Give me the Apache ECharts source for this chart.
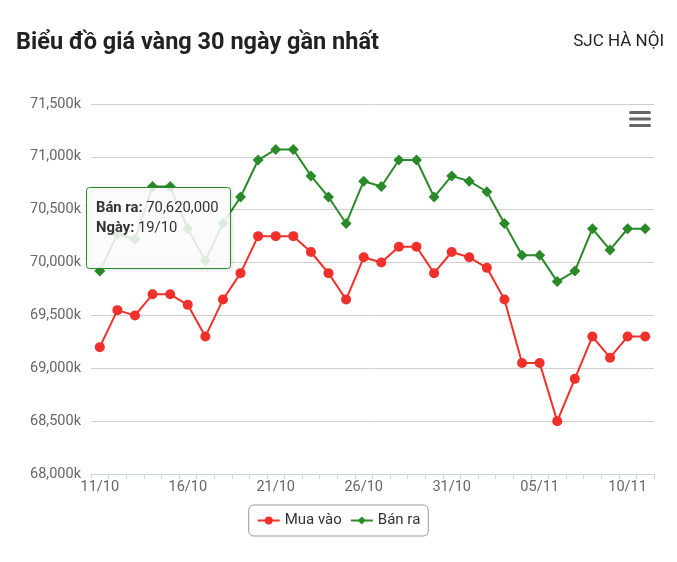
<!DOCTYPE html>
<html>
<head>
<meta charset="utf-8">
<script src="https://cdn.jsdelivr.net/npm/echarts@6/dist/echarts.min.js"></script>
<style>
html,body{margin:0;padding:0;background:#fff;}
#c{width:677px;height:562px;}
</style>
</head>
<body>
<div id="c"></div>
<script>
const categories = ['11/10','12/10','13/10','14/10','15/10','16/10','17/10','18/10','19/10','20/10','21/10','22/10','23/10','24/10','25/10','26/10','27/10','28/10','29/10','30/10','31/10','01/11','02/11','03/11','04/11','05/11','06/11','07/11','08/11','09/11','10/11','11/11'];
const muaVao = [69200,69550,69500,69700,69700,69600,69300,69650,69900,70250,70250,70250,70100,69900,69650,70050,70000,70150,70150,69900,70100,70050,69950,69650,69050,69050,68500,68900,69300,69100,69300,69300];
const banRa = [69920,70270,70220,70720,70720,70320,70020,70370,70620,70970,71070,71070,70820,70620,70370,70770,70720,70970,70970,70620,70820,70770,70670,70370,70070,70070,69820,69920,70320,70120,70320,70320];
const yTicks = {min:68000, max:71500, interval:500};
const tooltipIndex = 8;

const RED = '#f0302a';
const GREEN = '#2a8a2a';
const FONT = 'Roboto, "Noto Sans", sans-serif';

const chart = echarts.init(document.getElementById('c'), null, {renderer:'canvas'});
function fmt(n){return n.toLocaleString('en-US');}

chart.setOption({
  animation:false,
  textStyle:{fontFamily:FONT},
  title:[
    {text:'Biểu đồ giá vàng 30 ngày gần nhất', left:11, top:26,
     textStyle:{fontSize:23.5, fontWeight:'bold', color:'#222', fontFamily:FONT}},
    {text:'SJC HÀ NỘI', right:8, top:28,
     textStyle:{fontSize:17, fontWeight:'normal', color:'#222', fontFamily:FONT}}
  ],
  grid:{left:91, right:23, top:104, bottom:88, containLabel:false},
  legend:{
    data:['Mua vào','Bán ra'], left:'center', top:505,
    borderColor:'#999', borderWidth:1, borderRadius:5, padding:[8,8],
    itemWidth:22, itemHeight:10, itemGap:8,
    textStyle:{fontSize:15, color:'#333', fontFamily:FONT}
  },
  xAxis:{
    type:'category', data:categories, boundaryGap:true,
    axisLine:{lineStyle:{color:'#ccd6eb', width:1}},
    axisTick:{show:true, interval:0, length:5, lineStyle:{color:'#ccd6eb'}},
    axisLabel:{interval:4, color:'#666', fontSize:14.5, margin:6, fontFamily:FONT},
    splitLine:{show:false}
  },
  yAxis:{
    type:'value', min:yTicks.min, max:yTicks.max, interval:yTicks.interval,
    axisLine:{show:false}, axisTick:{show:false},
    axisLabel:{color:'#666', fontSize:14.5, margin:10, fontFamily:FONT,
      formatter:v=>fmt(v)+'k'},
    splitLine:{lineStyle:{color:'#cfcfcf', width:1}}
  },
  series:[
    {name:'Mua vào', type:'line', data:muaVao, color:RED, z:2,
     symbol:'circle', symbolSize:10, lineStyle:{width:2, color:RED},
     itemStyle:{color:RED}},
    {name:'Bán ra', type:'line', data:banRa, color:GREEN, z:2,
     symbol:'diamond', symbolSize:11, lineStyle:{width:2, color:GREEN},
     itemStyle:{color:GREEN}}
  ]
});

// tooltip box placed next to the point it describes
const pt = chart.convertToPixel({gridIndex:0}, [tooltipIndex, banRa[tooltipIndex]]);
const bw = 144, bh = 81;
const bx = Math.round(pt[0] - 11 - bw), by = Math.round(pt[1] - 10);
const gridRight = 677 - 23;
chart.setOption({
  graphic:[
    {type:'rect', zlevel:1, z:100, shape:{x:bx+0.5, y:by+0.5, width:bw, height:bh, r:3},
     style:{fill:'rgba(255,255,255,0.85)', stroke:GREEN, lineWidth:1,
            shadowBlur:4, shadowColor:'rgba(0,0,0,0.15)', shadowOffsetX:1, shadowOffsetY:1}},
    {type:'text', zlevel:1, z:101, x:bx+10, y:by+11,
     style:{text:'{b|Bán ra:} ' + fmt(banRa[tooltipIndex]*1000) + '\n{b|Ngày:} ' + categories[tooltipIndex],
       fontSize:14.8, fill:'#333', fontFamily:FONT, lineHeight:20,
       rich:{b:{fontWeight:'bold', fontSize:14.8, fill:'#333', fontFamily:FONT, lineHeight:20}}}},
    {type:'rect', zlevel:1, z:100, shape:{x:gridRight-25, y:111, width:22, height:3, r:1.5}, style:{fill:'#666'}},
    {type:'rect', zlevel:1, z:100, shape:{x:gridRight-25, y:117.5, width:22, height:3, r:1.5}, style:{fill:'#666'}},
    {type:'rect', zlevel:1, z:100, shape:{x:gridRight-25, y:124, width:22, height:3, r:1.5}, style:{fill:'#666'}}
  ]
});
</script>
</body>
</html>
